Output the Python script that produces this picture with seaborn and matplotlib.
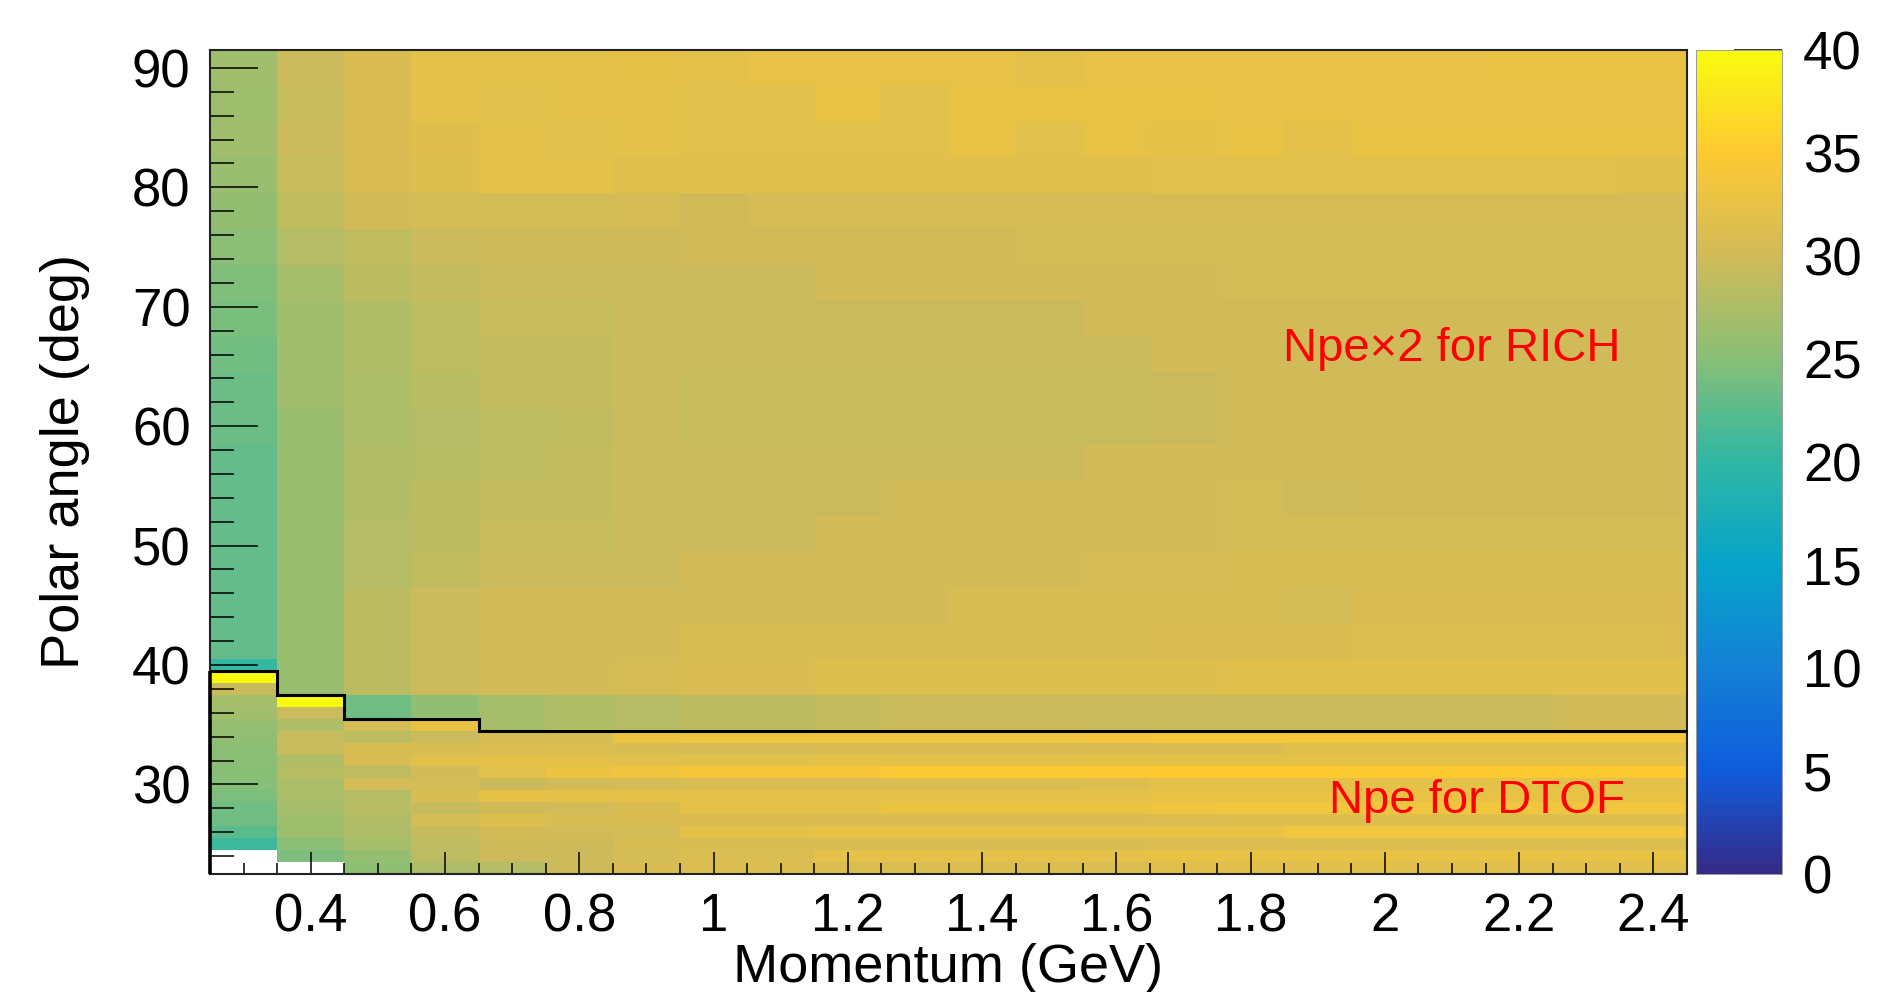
import numpy as np
import pandas as pd
import matplotlib
matplotlib.use("Agg")
import matplotlib.pyplot as plt
from matplotlib.colors import LinearSegmentedColormap
import seaborn as sns

nan = np.nan

# ---------------------------------------------------------------- data
momentum = [0.3, 0.4, 0.5, 0.6, 0.7, 0.8, 0.9, 1.0, 1.1, 1.2, 1.3,
            1.4, 1.5, 1.6, 1.7, 1.8, 1.9, 2.0, 2.1, 2.2, 2.3, 2.4]   # bin centres (GeV)
momentum_range = (0.25, 2.45)
theta_range = (22.5, 91.5)

# RICH photo-electrons (x2), 3-degree polar-angle bins, listed by upper edge
rich_upper = [91.5, 88.5, 85.5, 82.5, 79.5, 76.5, 73.5, 70.5, 67.5, 64.5,
              61.5, 58.5, 55.5, 52.5, 49.5, 46.5, 43.5, 40.5, 37.5]
rich_npe = [
    [26.7, 29.5, 30.8, 32.0, 32.0, 32.0, 32.3, 31.9, 32.4, 32.4, 32.4, 32.4, 31.9, 32.4, 32.4, 32.4, 32.4, 32.4, 32.4, 32.6, 32.6, 32.6],
    [26.6, 29.2, 30.8, 32.0, 31.8, 32.0, 32.0, 31.8, 31.8, 32.5, 31.8, 32.5, 32.5, 32.5, 32.5, 32.4, 32.4, 32.4, 32.4, 32.4, 32.4, 32.4],
    [26.7, 29.5, 30.8, 31.4, 32.0, 31.7, 32.0, 31.8, 31.8, 31.8, 31.8, 32.6, 31.8, 32.6, 32.2, 32.6, 31.9, 32.5, 32.5, 32.5, 32.5, 32.5],
    [26.2, 29.2, 30.8, 31.3, 32.0, 32.0, 31.6, 31.6, 31.6, 31.6, 31.6, 31.6, 31.6, 31.6, 31.8, 31.8, 31.8, 31.8, 31.8, 31.8, 31.8, 31.6],
    [25.8, 28.8, 30.2, 30.3, 30.4, 30.4, 30.5, 30.1, 30.5, 30.5, 30.5, 30.5, 30.5, 30.5, 30.5, 30.5, 30.5, 30.5, 30.5, 30.5, 30.5, 30.5],
    [25.3, 28.0, 28.8, 29.6, 29.7, 29.7, 29.7, 30.1, 30.1, 30.1, 30.1, 30.1, 30.3, 30.3, 30.3, 30.3, 30.3, 30.3, 30.3, 30.3, 30.3, 30.3],
    [24.5, 27.1, 28.4, 29.0, 29.5, 29.5, 29.6, 29.4, 29.4, 30.1, 30.1, 30.1, 30.1, 30.1, 30.1, 30.3, 30.3, 30.3, 30.3, 30.3, 30.3, 30.3],
    [24.2, 26.7, 27.7, 28.7, 29.2, 29.3, 29.6, 29.4, 29.4, 29.4, 29.4, 29.4, 29.4, 30.1, 30.1, 30.1, 30.1, 30.1, 30.1, 30.1, 30.1, 30.1],
    [23.7, 26.7, 27.7, 28.7, 29.0, 29.0, 29.6, 29.4, 29.4, 29.4, 29.4, 29.4, 29.4, 29.4, 30.1, 30.1, 30.1, 30.1, 30.1, 30.1, 30.1, 30.1],
    [23.4, 26.7, 27.5, 28.3, 29.0, 29.0, 29.5, 29.2, 29.3, 29.3, 29.3, 29.3, 29.3, 29.3, 29.4, 30.0, 30.0, 30.0, 30.0, 30.0, 30.0, 30.0],
    [23.4, 26.3, 27.5, 28.0, 28.7, 28.8, 29.5, 29.3, 29.3, 29.3, 29.3, 29.3, 29.3, 29.3, 29.4, 30.0, 30.0, 30.0, 30.0, 30.0, 30.0, 30.0],
    [23.0, 26.2, 27.8, 28.2, 28.7, 29.0, 29.6, 29.4, 29.4, 29.4, 29.4, 29.4, 29.4, 30.0, 30.0, 30.0, 30.0, 30.0, 30.0, 30.0, 30.0, 30.0],
    [23.0, 26.2, 27.8, 28.5, 29.0, 29.0, 29.6, 29.4, 29.4, 29.4, 30.0, 30.0, 30.0, 30.0, 30.0, 30.3, 29.9, 30.1, 30.1, 30.1, 30.1, 30.1],
    [23.0, 26.2, 28.0, 28.5, 29.3, 29.3, 29.6, 29.4, 29.4, 30.0, 30.0, 30.0, 30.0, 30.0, 30.0, 30.3, 30.3, 30.3, 30.3, 30.3, 30.3, 30.3],
    [23.0, 26.2, 28.0, 28.8, 29.6, 29.6, 29.6, 30.0, 30.0, 30.2, 30.2, 30.2, 30.2, 30.5, 30.5, 30.6, 30.6, 30.6, 30.6, 30.6, 30.6, 30.6],
    [23.0, 26.2, 28.4, 29.5, 30.0, 30.0, 30.0, 30.2, 30.2, 30.2, 30.2, 30.7, 30.7, 30.7, 30.7, 30.7, 30.4, 30.9, 30.9, 30.9, 30.9, 30.9],
    [23.0, 26.2, 28.4, 29.5, 30.2, 30.0, 30.2, 30.7, 30.7, 30.7, 30.7, 30.7, 30.7, 30.7, 30.9, 30.9, 30.9, 31.1, 31.1, 31.1, 31.1, 31.1],
    [20.3, 26.2, 28.4, 29.5, 30.2, 30.2, 30.5, 30.9, 30.9, 31.3, 31.3, 31.3, 31.3, 31.3, 31.3, 31.6, 31.6, 31.6, 31.6, 31.6, 31.6, 31.6],
    [nan, nan, 23.6, 25.7, 27.0, 27.7, 28.0, 28.4, 28.4, 29.0, 29.4, 29.4, 29.4, 29.4, 29.4, 29.4, 29.4, 29.4, 29.4, 29.4, 30.0, 30.0],
]

# DTOF photo-electrons, 1-degree polar-angle bins, listed by upper edge
dtof_upper = [39.5, 38.5, 37.5, 36.5, 35.5, 34.5, 33.5, 32.5, 31.5,
              30.5, 29.5, 28.5, 27.5, 26.5, 25.5, 24.5, 23.5]
dtof_npe = [
    [40.0, nan, nan, nan, nan, nan, nan, nan, nan, nan, nan, nan, nan, nan, nan, nan, nan, nan, nan, nan, nan, nan],
    [29.4, nan, nan, nan, nan, nan, nan, nan, nan, nan, nan, nan, nan, nan, nan, nan, nan, nan, nan, nan, nan, nan],
    [27.0, 40.0, nan, nan, nan, nan, nan, nan, nan, nan, nan, nan, nan, nan, nan, nan, nan, nan, nan, nan, nan, nan],
    [26.7, 29.5, nan, nan, nan, nan, nan, nan, nan, nan, nan, nan, nan, nan, nan, nan, nan, nan, nan, nan, nan, nan],
    [26.0, 27.7, 30.3, 32.5, nan, nan, nan, nan, nan, nan, nan, nan, nan, nan, nan, nan, nan, nan, nan, nan, nan, nan],
    [25.7, 29.2, 28.7, 29.6, 30.6, 30.6, 33.0, 33.3, 33.3, 33.3, 33.3, 33.3, 33.3, 33.8, 34.0, 34.0, 34.0, 34.0, 34.0, 34.0, 34.0, 34.0],
    [25.4, 29.2, 30.6, 30.6, 31.0, 31.0, 30.6, 30.5, 30.5, 30.8, 30.8, 30.8, 30.8, 30.8, 30.8, 30.8, 31.6, 31.6, 31.6, 31.6, 31.6, 31.6],
    [25.3, 27.7, 30.6, 31.7, 32.3, 32.0, 31.7, 31.7, 31.7, 32.0, 32.0, 32.0, 32.0, 32.2, 32.3, 32.3, 32.3, 32.3, 32.3, 32.3, 32.3, 32.3],
    [25.0, 28.3, 28.7, 30.2, 31.7, 32.8, 33.4, 34.0, 34.0, 34.0, 34.7, 34.7, 34.7, 34.7, 35.0, 35.0, 35.0, 35.0, 35.0, 35.0, 35.0, 35.0],
    [24.8, 27.4, 30.4, 30.4, 29.6, 30.2, 30.5, 30.6, 30.6, 30.6, 31.0, 31.0, 31.0, 31.3, 32.0, 32.0, 32.0, 32.0, 32.0, 32.0, 32.0, 32.0],
    [24.4, 27.4, 28.0, 30.6, 32.3, 32.0, 32.0, 32.0, 32.0, 32.0, 32.0, 32.0, 32.0, 32.0, 32.5, 32.5, 32.5, 32.5, 32.5, 32.5, 32.5, 32.5],
    [23.8, 27.0, 28.3, 29.3, 30.0, 30.2, 30.8, 32.0, 32.0, 32.0, 32.9, 32.9, 32.9, 32.9, 33.3, 33.5, 33.5, 33.5, 33.5, 33.5, 33.5, 33.5],
    [23.6, 26.6, 27.8, 30.4, 31.3, 30.6, 30.8, 30.8, 30.8, 30.8, 30.8, 30.8, 30.8, 30.8, 31.0, 31.3, 31.3, 31.3, 31.3, 31.3, 31.3, 31.3],
    [22.5, 26.6, 27.6, 29.3, 30.2, 30.2, 30.4, 32.3, 32.3, 32.5, 32.5, 32.5, 32.5, 32.5, 32.5, 32.5, 33.5, 33.5, 33.5, 33.5, 33.5, 33.5],
    [20.8, 25.3, 27.0, 28.7, 29.8, 29.8, 30.6, 30.6, 30.6, 30.6, 30.6, 30.6, 30.6, 30.6, 31.0, 31.0, 31.0, 31.0, 31.0, 31.0, 31.0, 31.0],
    [nan, 24.4, 26.0, 28.7, 29.8, 29.8, 30.4, 31.0, 31.0, 32.0, 32.0, 32.0, 32.0, 32.0, 32.5, 32.5, 32.5, 32.5, 32.5, 32.5, 32.5, 32.5],
    [nan, nan, 25.5, 27.5, 28.0, 29.8, 30.8, 31.0, 31.0, 31.0, 31.0, 31.0, 31.0, 31.0, 31.6, 31.6, 31.6, 31.6, 31.6, 31.6, 31.6, 31.6],
]

# upper polar-angle edge of the DTOF acceptance in each momentum bin
dtof_edge = [39.5, 37.5, 35.5, 35.5, 34.5, 34.5, 34.5, 34.5, 34.5, 34.5, 34.5,
             34.5, 34.5, 34.5, 34.5, 34.5, 34.5, 34.5, 34.5, 34.5, 34.5, 34.5]

x_ticks = [0.4, 0.6, 0.8, 1.0, 1.2, 1.4, 1.6, 1.8, 2.0, 2.2, 2.4]
x_tick_labels = ["0.4", "0.6", "0.8", "1", "1.2", "1.4", "1.6", "1.8", "2", "2.2", "2.4"]
y_ticks = [30, 40, 50, 60, 70, 80, 90]
z_ticks = [0, 5, 10, 15, 20, 25, 30, 35, 40]

# ------------------------------------------------ merge onto a 1-degree grid
rich_width, dtof_width = 3.0, 1.0
n_rows = int(round((theta_range[1] - theta_range[0]) / dtof_width))
centres = theta_range[1] - dtof_width * (np.arange(n_rows) + 0.5)
grid = np.full((n_rows, len(momentum)), nan)
for j in range(len(momentum)):
    for i, c in enumerate(centres):
        if c < dtof_edge[j]:
            rows = [m for m, top in enumerate(dtof_upper) if top - dtof_width < c < top]
            if rows:
                grid[i, j] = dtof_npe[rows[0]][j]
        else:
            rows = [m for m, top in enumerate(rich_upper) if top - rich_width < c < top]
            if rows:
                grid[i, j] = rich_npe[rows[0]][j]
table = pd.DataFrame(grid, index=centres, columns=momentum)

# ROOT "bird" palette
bird_stops = [0.0, 0.125, 0.25, 0.375, 0.5, 0.625, 0.75, 0.875, 1.0]
bird_r = [0.2082, 0.0592, 0.0780, 0.0232, 0.1802, 0.5301, 0.8186, 0.9956, 0.9764]
bird_g = [0.1664, 0.3599, 0.5041, 0.6419, 0.7178, 0.7492, 0.7328, 0.7862, 0.9832]
bird_b = [0.5293, 0.8684, 0.8385, 0.7914, 0.6425, 0.4662, 0.3499, 0.1968, 0.0539]
bird = LinearSegmentedColormap.from_list(
    "bird", list(zip(bird_stops, zip(bird_r, bird_g, bird_b))), N=255)

# ---------------------------------------------------------------- figure
sns.set_style("white")
plt.rcParams["font.family"] = ["Liberation Sans", "DejaVu Sans"]
plt.rcParams.update({"text.color": "black", "axes.labelcolor": "black",
                     "xtick.color": "black", "ytick.color": "black"})

fig = plt.figure(figsize=(18.82, 9.92), dpi=100)
frame_box = [0.1116, 0.1190, 0.7848, 0.8306]
ax = fig.add_axes(frame_box)
cax = fig.add_axes([0.9012, 0.1190, 0.0457, 0.8306])

sns.heatmap(table, ax=ax, cmap=bird, vmin=0, vmax=40, cbar_ax=cax,
            xticklabels=False, yticklabels=False, linewidths=0)
ax.set_xlabel("")
ax.set_ylabel("")

# axes in physical units on top of the cell grid
fx = fig.add_axes(frame_box, label="physical")
fx.patch.set_alpha(0)
fx.set_xlim(*momentum_range)
fx.set_ylim(*theta_range)

edges = np.concatenate([[momentum_range[0]],
                        np.array(momentum) + (momentum[1] - momentum[0]) / 2])
fx.stairs(dtof_edge, edges, baseline=None, fill=False,
          color="black", linewidth=2.2, clip_on=False, zorder=5)
fx.vlines(momentum_range[0], theta_range[0], dtof_edge[0],
          color="black", linewidth=2.6, clip_on=False, zorder=5)

fx.set_xticks(x_ticks)
fx.set_xticklabels(x_tick_labels)
fx.set_xticks(np.arange(0.25, 2.4501, 0.05), minor=True)
fx.set_yticks(y_ticks)
fx.set_yticks(np.arange(24, 91, 2), minor=True)

fx.tick_params(axis="both", which="both", direction="in", width=1.1,
               color="black", labelcolor="black", bottom=True, left=True,
               top=False, right=False, labelsize=38)
fx.tick_params(axis="x", which="major", length=15.8, pad=13)
fx.tick_params(axis="x", which="minor", length=7.9)
fx.tick_params(axis="y", which="major", length=34.6, pad=14)
fx.tick_params(axis="y", which="minor", length=17.3)
for s in fx.spines.values():
    s.set_linewidth(1.5)
    s.set_color("#222222")
    s.set_visible(True)

fx.set_xlabel("Momentum (GeV)", fontsize=39)
fx.xaxis.set_label_coords(0.5, -0.084)
fx.set_ylabel("Polar angle (deg)", fontsize=39)
fx.yaxis.set_label_coords(-0.081, 0.5)

fx.text(0.7265, 0.6226, "Npe\u00d72 for RICH", transform=fx.transAxes,
        color="red", fontsize=34, ha="left", va="baseline")
fx.text(0.7578, 0.0744, "Npe for DTOF", transform=fx.transAxes,
        color="red", fontsize=34, ha="left", va="baseline")

# colour scale
cbar = ax.collections[0].colorbar
cbar.set_ticks(z_ticks)
cbar.set_ticklabels([str(t) for t in z_ticks])
cbar.outline.set_linewidth(0.7)
cbar.outline.set_edgecolor("#9a9a9a")
cax.tick_params(axis="y", which="both", direction="in", length=34.6, width=1.1,
                color="black", labelcolor="black", right=True, left=False,
                labelsize=38, pad=15)

fig.savefig("out.png", dpi=100)
